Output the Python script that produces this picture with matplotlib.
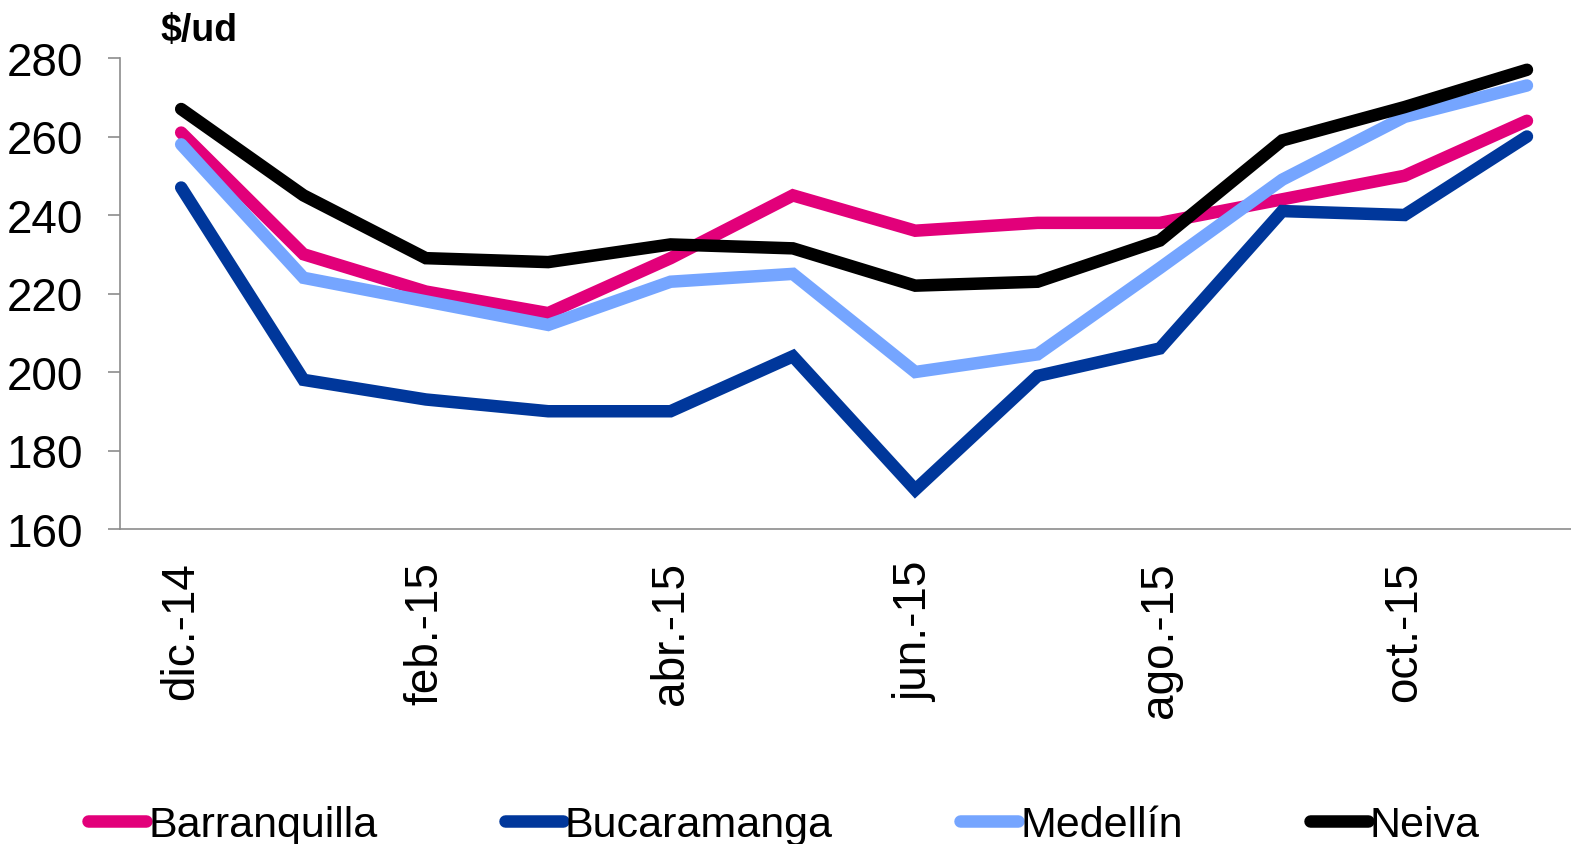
import matplotlib
matplotlib.use("Agg")
import matplotlib.pyplot as plt

plt.rcParams['font.family'] = ['Liberation Sans', 'DejaVu Sans']

months = ["dic.-14", "ene.-15", "feb.-15", "mar.-15", "abr.-15", "may.-15",
          "jun.-15", "jul.-15", "ago.-15", "sep.-15", "oct.-15", "nov.-15"]
barranquilla = [261, 230, 220.5, 215, 229, 245, 236, 238, 238, 244, 250, 264]
bucaramanga = [247, 198, 193, 190, 190, 204, 170, 199, 206, 241, 240, 260]
medellin = [258, 224, 218, 212, 223, 225, 200, 204.5, 226.5, 249, 265, 273]
neiva = [267, 245, 229, 228, 232.5, 231.5, 222, 223, 233.5, 259, 267.5, 277]

series = [("Barranquilla", barranquilla, "#E2007A"),
          ("Bucaramanga", bucaramanga, "#00379B"),
          ("Medellín", medellin, "#75A5FF"),
          ("Neiva", neiva, "#000000")]

fig = plt.figure(figsize=(15.71, 8.45), dpi=100)
ax = fig.add_axes([120/1571, 1-530/845, 1-120/1571, (530-59)/845])

x = list(range(len(months)))
for name, vals, col in series:
    ax.plot(x, vals, color=col, lw=9, solid_capstyle='round',
            solid_joinstyle='miter', label=name)

ax.set_ylim(160, 280)
ax.set_yticks(range(160, 281, 20))
ax.set_xlim(-0.5, 11.36)
ax.set_xticks(x[::2])
ax.set_xticklabels(months[::2], rotation=90, fontsize=33)
ax.tick_params(axis='x', length=0, pad=23)
ax.tick_params(axis='y', length=8.6, width=1.2, color='#8C8C8C', labelsize=33, pad=18)

for s in ['top', 'right']:
    ax.spines[s].set_visible(False)
for s in ['left', 'bottom']:
    ax.spines[s].set_color('#8C8C8C')
    ax.spines[s].set_linewidth(1.2)

fig.text(160/1571, 1-31/845, "$/ud", fontsize=27, fontweight='bold', va='center', ha='left')

fig.legend(loc='center left', bbox_to_anchor=(88/1571, 1-826/845), ncol=4,
           frameon=False, fontsize=31, handlelength=1.35, handletextpad=0.05,
           columnspacing=2.95, borderaxespad=0, borderpad=0)

fig.savefig("out.png", dpi=100)
